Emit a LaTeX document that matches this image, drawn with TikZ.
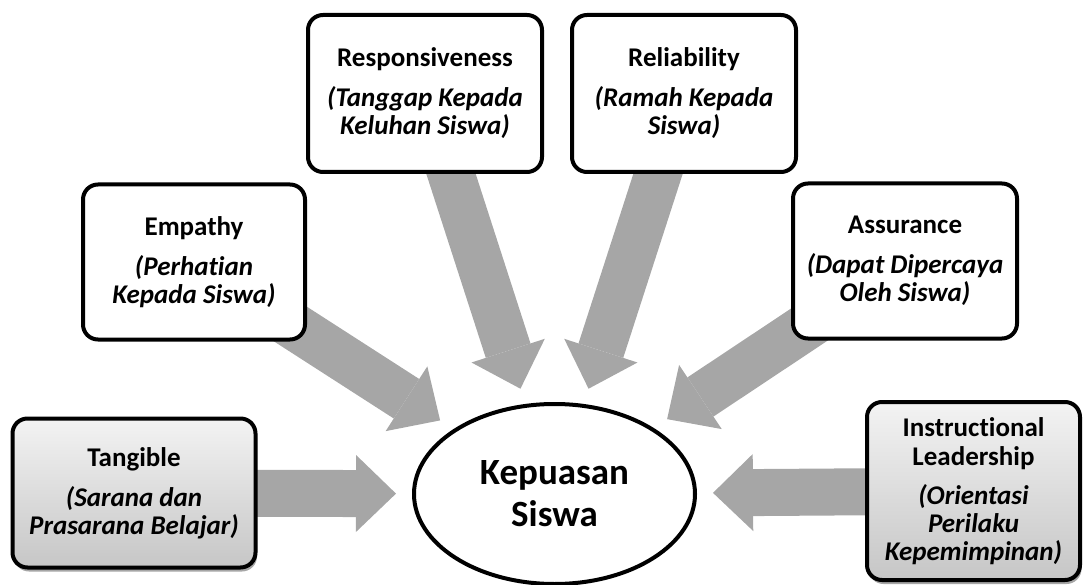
\documentclass[tikz,border=0pt]{standalone}
\usepackage{fontspec}
\setmainfont[Ligatures=NoCommon]{Carlito}
\usetikzlibrary{arrows.meta,shadows,backgrounds,shapes.geometric}
\definecolor{arrowgray}{RGB}{166,166,166}
\definecolor{boxtop}{RGB}{243,243,243}
\definecolor{boxbot}{RGB}{198,198,198}
\newcommand\boxfont{\bfseries\fontsize{27}{28}\selectfont}
\newcommand\kepfont{\bfseries\fontsize{37}{42}\selectfont}
\begin{document}
\begin{tikzpicture}[x=1pt,y=-1pt,
  box/.style={draw=black, line width=4pt, rounded corners=15pt, fill=white,
    align=center, font=\boxfont, inner sep=0pt},
  shadedbox/.style={box, top color=boxtop, bottom color=boxbot,
    drop shadow={shadow xshift=1.5pt, shadow yshift=-4pt, opacity=0.35, fill=black}},
  center/.style={draw=black, line width=4pt, ellipse, fill=white, align=center,
    font=\kepfont, inner sep=0pt, minimum width=281pt, minimum height=180pt},
  blockarrow/.style={draw=arrowgray, line width=47pt,
    -{Triangle[length=40pt, width=77pt, line width=0pt]}, shorten >=16pt}
]
\useasboundingbox (0,0) rectangle (1084,585);

\node[center] (kep) at (554.5,494) {Kepuasan\\Siswa};

\node[shadedbox, minimum width=243pt, minimum height=149pt] (tang) at (134,493)
  {Tangible\\[12pt]\textit{(Sarana dan}\\\textit{Prasarana Belajar)}};
\node[box, minimum width=222pt, minimum height=155pt] (empa) at (194,262)
  {Empathy\\[12pt]\textit{(Perhatian}\\\textit{Kepada Siswa)}};
\node[box, minimum width=234pt, minimum height=157pt] (resp) at (425,93.5)
  {Responsiveness\\[12pt]\textit{(Tanggap Kepada}\\\textit{Keluhan Siswa)}};
\node[box, minimum width=224pt, minimum height=157pt] (reli) at (684,93.5)
  {Reliability\\[12pt]\textit{(Ramah Kepada}\\\textit{Siswa)}};
\node[box, minimum width=224pt, minimum height=155pt] (assu) at (905,261)
  {Assurance\\[12pt]\textit{(Dapat Dipercaya}\\\textit{Oleh Siswa)}};
\node[shadedbox, minimum width=213pt, minimum height=178pt] (inst) at (973.5,491)
  {Instructional\\[1pt]Leadership\\[11pt]\textit{(Orientasi}\\\textit{Perilaku}\\\textit{Kepemimpinan)}};

\begin{scope}[on background layer]
  \foreach \n in {tang,empa,resp,reli,assu,inst}
    \draw[blockarrow] (\n.center) -- (kep);
\end{scope}
\end{tikzpicture}
\end{document}
